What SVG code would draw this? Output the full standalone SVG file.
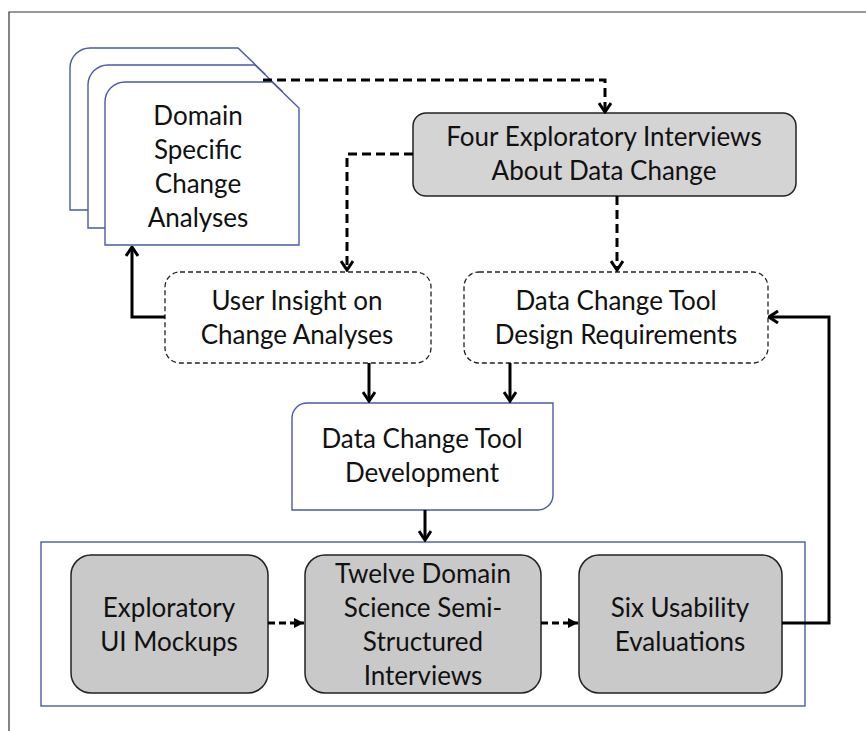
<svg xmlns="http://www.w3.org/2000/svg" width="866" height="731" viewBox="0 0 866 731">
<style>
.t{font-family:Lato,"Noto Sans",sans-serif;font-size:26px;fill:#111;text-anchor:middle}
.doc{fill:#fff;stroke:#4a5aa8;stroke-width:1.4}
.dbox{fill:#fff;stroke:#222;stroke-width:1.3;stroke-dasharray:5 3}
.gbox{stroke:#222;stroke-width:1.5}
.c{fill:none;stroke:#000;stroke-width:3}
.dash{stroke-dasharray:9 5}
.sd{fill:none;stroke:#000;stroke-width:3;stroke-dasharray:7 4}
</style>
<defs>
<marker id="chev" viewBox="0 0 12 14" refX="10.5" refY="7" markerWidth="12" markerHeight="14" markerUnits="userSpaceOnUse" orient="auto">
<path d="M1.5,1 L10.5,7 L1.5,13" fill="none" stroke="#000" stroke-width="3"/>
</marker>
<marker id="tri" viewBox="0 0 10 10" refX="10" refY="5" markerWidth="10" markerHeight="10" markerUnits="userSpaceOnUse" orient="auto">
<path d="M0,0 L10,5 L0,10 Z" fill="#000"/>
</marker>
</defs>
<rect width="866" height="731" fill="#fff"/>
<path d="M9,731 V12 H866" fill="none" stroke="#333" stroke-width="1.2"/>

<g id="domain-docs">
<path class="doc" d="M70,210 V68 A20,20 0 0 1 90,48 H238 L265,74 V210 Z"/>
<path class="doc" d="M88,228 V85 A20,20 0 0 1 108,65 H255 L282,91 V228 Z"/>
<path class="doc" d="M105,245 V102 A20,20 0 0 1 125,82 H272 L299,108 V245 Z"/>
<text class="t" x="198" y="125">Domain</text>
<text class="t" x="198" y="159">Specific</text>
<text class="t" x="198" y="193">Change</text>
<text class="t" x="198" y="227">Analyses</text>
</g>

<g id="four-interviews">
<rect class="gbox" x="413" y="113" width="383" height="83" rx="13" fill="#d4d4d4"/>
<text class="t" x="604" y="146">Four Exploratory Interviews</text>
<text class="t" x="604" y="180">About Data Change</text>
</g>

<g id="user-insight">
<rect class="dbox" x="165" y="272" width="266" height="91" rx="15"/>
<text class="t" x="297" y="310">User Insight on</text>
<text class="t" x="297" y="344">Change Analyses</text>
</g>

<g id="design-req">
<rect class="dbox" x="464" y="272" width="304" height="91" rx="15"/>
<text class="t" x="616" y="310">Data Change Tool</text>
<text class="t" x="616" y="344">Design Requirements</text>
</g>

<g id="tool-dev">
<path class="doc" d="M292,418 A15,15 0 0 1 307,403 H553 V495 A15,15 0 0 1 538,510 H292 Z"/>
<text class="t" x="422" y="448">Data Change Tool</text>
<text class="t" x="422" y="482">Development</text>
</g>

<g id="evaluation-group">
<rect x="41" y="542" width="764" height="164" fill="#fff" stroke="#4a5aa8" stroke-width="1.4"/>
</g>

<g id="ui-mockups">
<rect class="gbox" x="71" y="555" width="197" height="138" rx="20" fill="#c9c9c9"/>
<text class="t" x="169" y="617">Exploratory</text>
<text class="t" x="169" y="651">UI Mockups</text>
</g>

<g id="twelve-interviews">
<rect class="gbox" x="305" y="555" width="236" height="138" rx="20" fill="#c9c9c9"/>
<text class="t" x="423" y="583">Twelve Domain</text>
<text class="t" x="423" y="617">Science Semi-</text>
<text class="t" x="423" y="651">Structured</text>
<text class="t" x="423" y="685">Interviews</text>
</g>

<g id="usability">
<rect class="gbox" x="579" y="555" width="203" height="138" rx="20" fill="#c9c9c9"/>
<text class="t" x="680" y="617">Six Usability</text>
<text class="t" x="680" y="651">Evaluations</text>
</g>

<g id="connectors">
<path class="c dash" d="M263,80 H605 V112" marker-end="url(#chev)"/>
<path class="c dash" d="M413,154 H347 V270" marker-end="url(#chev)"/>
<path class="c dash" d="M617,196 V270" marker-end="url(#chev)"/>
<path class="c" d="M165,317 H132 V247" marker-end="url(#chev)"/>
<path class="c" d="M369,363 V401" marker-end="url(#chev)"/>
<path class="c" d="M510,363 V401" marker-end="url(#chev)"/>
<path class="c" d="M425,510 V540" marker-end="url(#chev)"/>
<path class="sd" d="M268,623 H304" marker-end="url(#tri)"/>
<path class="sd" d="M541,623 H578" marker-end="url(#tri)"/>
<path class="c" d="M782,623 H829 V317 H769" marker-end="url(#chev)"/>
</g>
</svg>
